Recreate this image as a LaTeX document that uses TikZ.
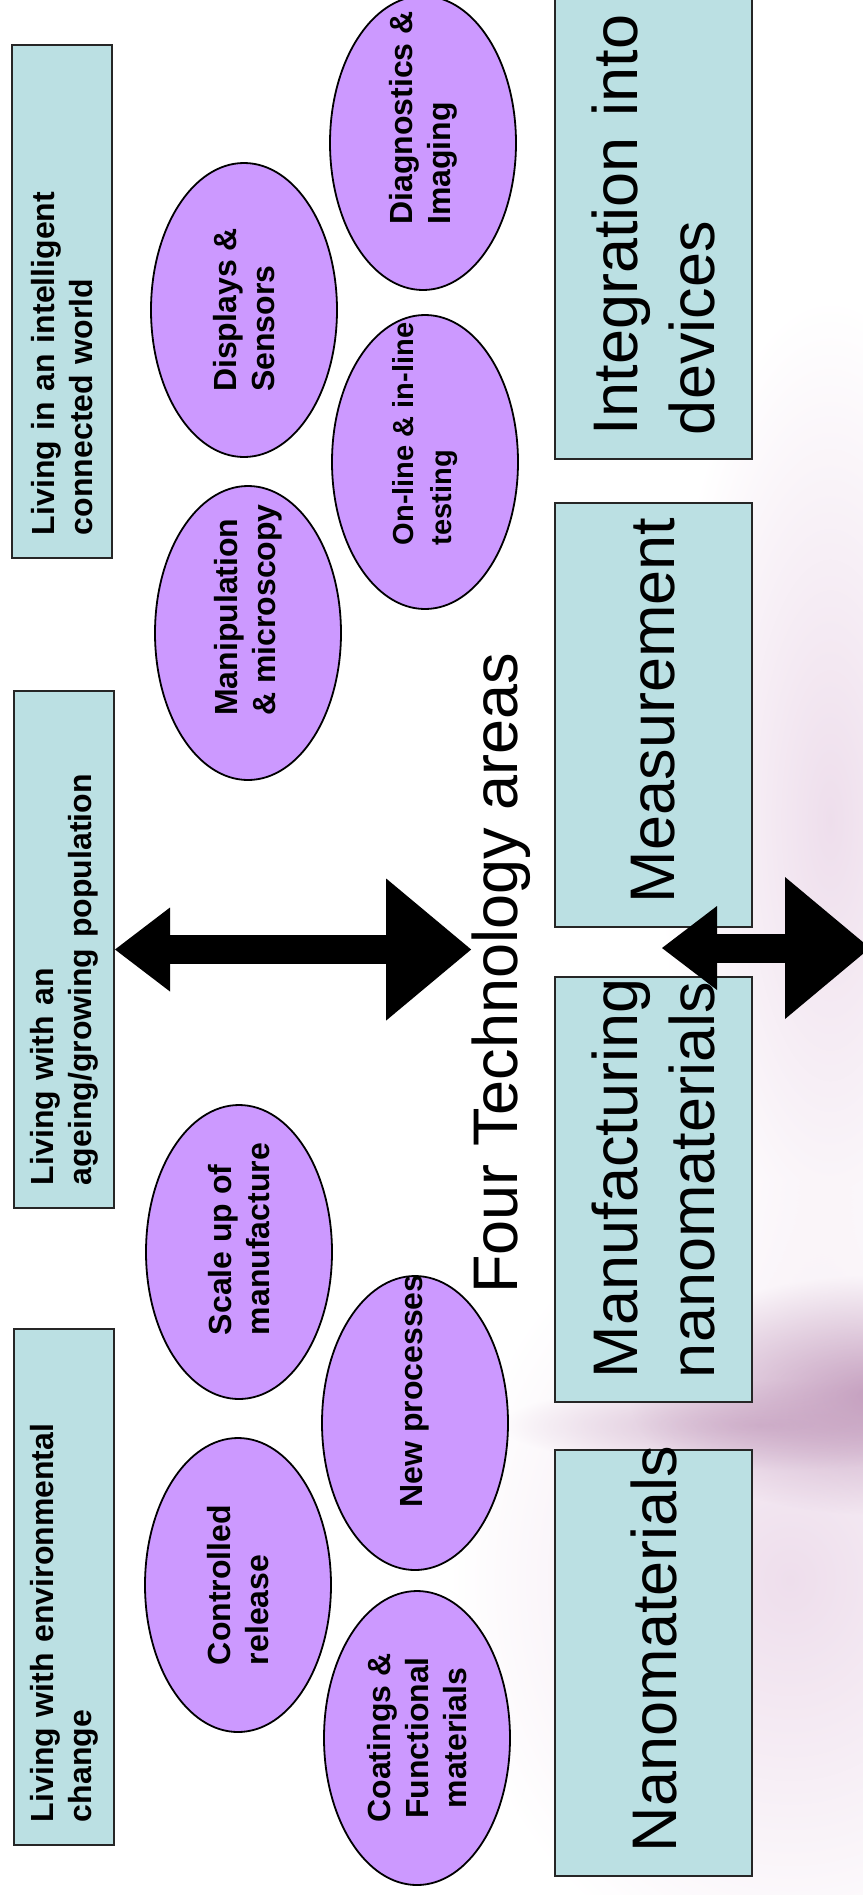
\documentclass[tikz,border=0pt]{standalone}
\usepackage{fontspec}
\setmainfont{Liberation Sans}
\usetikzlibrary{arrows.meta, shapes.geometric, fadings}

\definecolor{tealbox}{RGB}{187,224,227}
\definecolor{lilac}{RGB}{204,153,255}
\definecolor{mauve}{RGB}{196,158,190}
\definecolor{blush}{RGB}{238,222,236}
\tikzfading[name=soft, inner color=transparent!0, outer color=transparent!100]
\hyphenpenalty=10000

\begin{document}
\begin{tikzpicture}[x=1pt, y=-1pt,
	life/.style={draw=black!85, line width=2pt, fill=tealbox, rotate=90,
		minimum height=100pt, inner xsep=23pt, inner ysep=0pt, align=left,
		text width=#1, font=\fontsize{32}{38}\selectfont\bfseries},
	tech/.style={draw=black!85, line width=2pt, fill=tealbox, rotate=90,
		minimum height=197pt, inner xsep=24pt, inner ysep=0pt, align=left,
		text width=#1, font=\fontsize{63}{77}\selectfont},
	topic/.style={ellipse, draw, line width=1.8pt, fill=lilac, rotate=90,
		minimum width=294pt, minimum height=186pt, inner xsep=-50pt, inner ysep=-16pt,
		align=left, font=\fontsize{32}{38}\selectfont\bfseries},
	link/.style={line width=29pt,
		{Triangle[length=55pt, width=84pt, line width=0pt]}-{Triangle[length=85pt, width=142pt, line width=0pt]}}]
	\useasboundingbox (0,0) rectangle (862,1895);

	% backdrop
	\fill[blush, path fading=soft] (830,820) ellipse (170pt and 520pt);
	\fill[blush, path fading=soft] (790,1580) ellipse (340pt and 400pt);
	\fill[mauve!70, path fading=soft] (760,1425) ellipse (260pt and 45pt);
	\fill[mauve, path fading=soft] (880,1395) ellipse (250pt and 120pt);

	% challenges
	\node[life=467pt] (intel) at (62,301.5) {Living in an intelligent\\connected world};
	\node[life=471pt] (age) at (64,949.5) {Living with an\\ageing/growing population};
	\node[life=470pt] (env) at (64,1587) {Living with environmental\\change};

	% topics
	\node[topic] (diag) at (423,143) {\hspace*{50pt}Diagnostics \&\\\hspace*{50pt}Imaging};
	\node[topic] (disp) at (244,310) {Displays \&\\Sensors};
	\node[topic, font=\fontsize{29}{38}\selectfont\bfseries] (online) at (425,462) {\hspace*{56pt}On-line \& in-line\\\hspace*{56pt}testing};
	\node[topic] (manip) at (248,633) {\hspace*{46pt}Manipulation\\\hspace*{46pt}\& microscopy};
	\node[topic] (scale) at (239,1252) {\hspace*{26pt}Scale up of\\\hspace*{26pt}manufacture};
	\node[topic] (newproc) at (415,1423) {\hspace*{64pt}New processes};
	\node[topic] (release) at (238,1585) {Controlled\\release};
	\node[topic, align=center] (coat) at (417,1738) {Coatings \&\\Functional\\materials};

	% technology areas
	\node[rotate=90, anchor=base, inner sep=0pt, font=\fontsize{63}{77}\selectfont] (title) at (517,973.5) {Four Technology areas};
	\node[tech=431pt] (integ) at (653.5,219.5) {Integration into\\devices};
	\node[tech=376pt] (meas) at (653.5,715) {Measurement};
	\node[tech=377pt] (manu) at (653.5,1189.5) {Manufacturing\\nanomaterials};
	\node[tech=378pt] (nano) at (653.5,1663) {Nanomaterials};

	\coordinate (hub) at (662,948);
	\coordinate (rim) at (870,948);
	\draw[link] (age.south) -- (age.south -| title.north);
	\draw[link] (hub) -- (rim);
\end{tikzpicture}
\end{document}
